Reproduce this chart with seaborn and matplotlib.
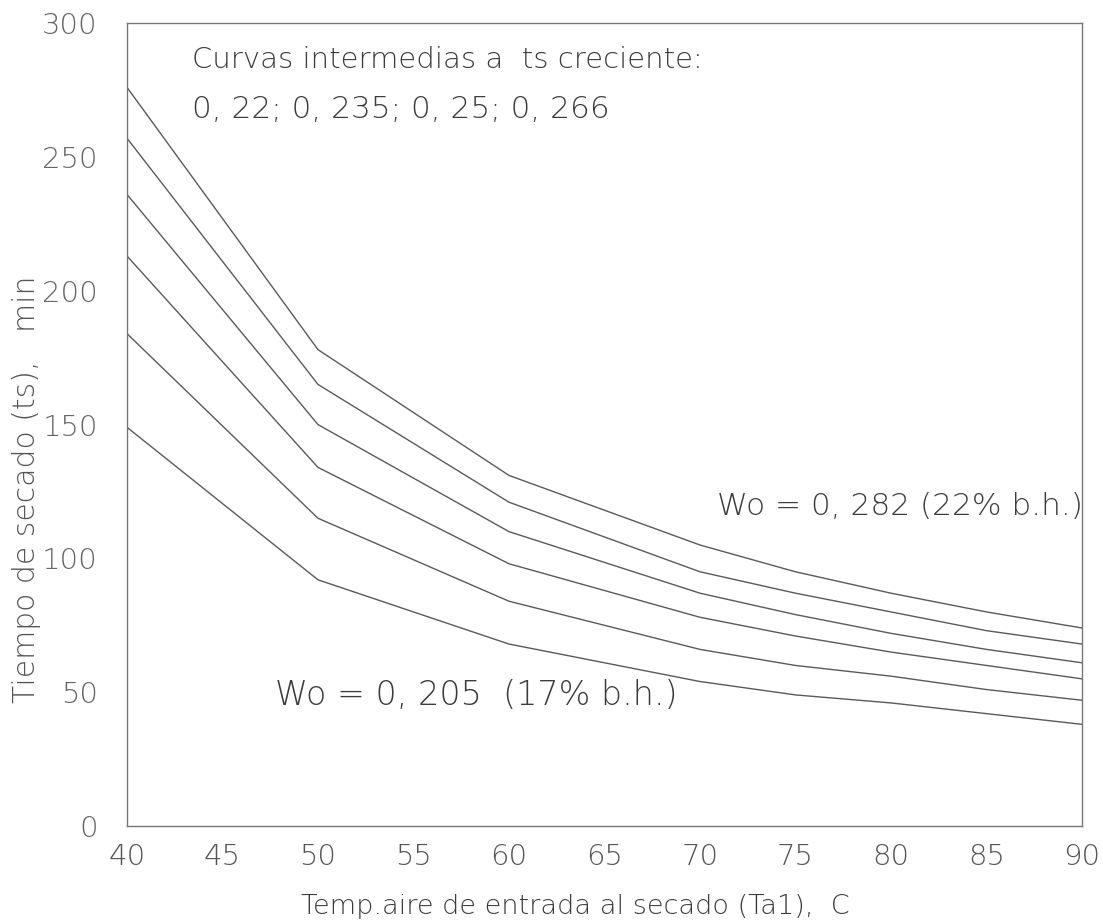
import matplotlib
matplotlib.use("Agg")
import matplotlib.pyplot as plt
import numpy as np
import pandas as pd
import seaborn as sns

# Inlet air temperature (C)
temperatura = [40, 50, 60, 70, 75, 80, 85, 90]

# Drying time (min) for each initial moisture content Wo (dry basis)
wo_labels = ["0,205", "0,22", "0,235", "0,25", "0,266", "0,282"]
ts_0205 = [149, 92, 68, 54, 49, 46, 42, 38]
ts_0220 = [184, 115, 84, 66, 60, 56, 51, 47]
ts_0235 = [213, 134, 98, 78, 71, 65, 60, 55]
ts_0250 = [236, 150, 110, 87, 79, 72, 66, 61]
ts_0266 = [257, 165, 121, 95, 87, 80, 73, 68]
ts_0282 = [276, 178, 131, 105, 95, 87, 80, 74]

series = [ts_0205, ts_0220, ts_0235, ts_0250, ts_0266, ts_0282]
df = pd.concat(
    [pd.DataFrame({"Ta1": temperatura, "ts": vals, "Wo": lab})
     for lab, vals in zip(wo_labels, series)],
    ignore_index=True,
)

sns.set_style("white")
plt.rcParams["font.family"] = ["DejaVu Sans"]

line_color = "#5a5a5a"
text_color = "#3c3c3c"

fig = plt.figure(figsize=(11.03, 9.24), dpi=100)
ax = fig.add_axes([0.1151, 0.106, 0.8659, 0.869])

sns.lineplot(data=df, x="Ta1", y="ts", hue="Wo",
             palette=[line_color] * len(wo_labels),
             linewidth=1.0, legend=False, ax=ax, sort=False)

ax.set_xlim(40, 90)
ax.set_ylim(0, 300)
ax.set_xticks(np.arange(40, 91, 5))
ax.set_yticks(np.arange(0, 301, 50))

for s in ax.spines.values():
    s.set_color("#777777")
    s.set_linewidth(1.0)

ax.tick_params(axis="y", direction="out", length=13, width=1.0,
               color="#777777", labelsize=21, labelcolor="#666666", pad=8)
ax.tick_params(axis="x", direction="out", length=0, labelsize=21,
               labelcolor="#555555", pad=12)
for lab in ax.get_xticklabels() + ax.get_yticklabels():
    lab.set_fontweight("light")

ax.set_xlabel("Temp.aire de entrada al secado (Ta1),  C",
              fontsize=19.5, color=text_color, fontweight="light")
ax.xaxis.set_label_coords(0.469, -0.085)
ax.set_ylabel("Tiempo de secado (ts),   min",
              fontsize=21.5, color="#555555", fontweight="light")
ax.yaxis.set_label_coords(-0.09, 0.42)

ax.text(0.068, 0.954, "Curvas intermedias a  ts creciente:",
        transform=ax.transAxes, fontsize=21, color=text_color,
        fontweight="light", va="center", ha="left")
ax.text(0.068, 0.892, "0, 22; 0, 235; 0, 25; 0, 266",
        transform=ax.transAxes, fontsize=22.5, color=text_color,
        fontweight="light", va="center", ha="left")
ax.text(0.618, 0.3985, "Wo = 0, 282 (22% b.h.)",
        transform=ax.transAxes, fontsize=22.5, color=text_color,
        fontweight="light", va="center", ha="left")
ax.text(0.155, 0.163, "Wo = 0, 205  (17% b.h.)",
        transform=ax.transAxes, fontsize=24, color=text_color,
        fontweight="light", va="center", ha="left")

fig.savefig("out.png", dpi=100)
